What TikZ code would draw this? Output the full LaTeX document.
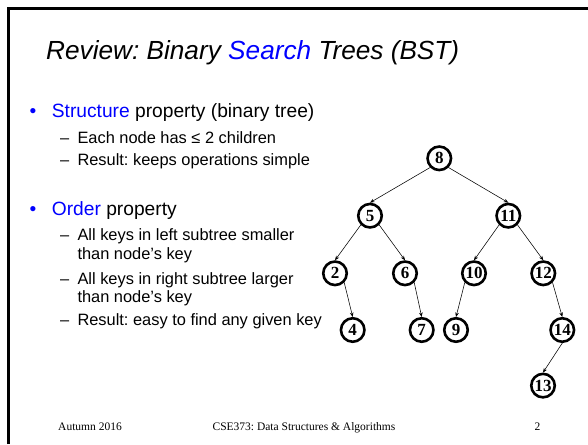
\documentclass[tikz,border=0pt]{standalone}
\usepackage{fontspec}
\setmainfont{Liberation Serif}
\newfontfamily\slidefont{Liberation Sans}
\usetikzlibrary{arrows.meta}
\definecolor{keyblue}{RGB}{0,0,255}
\frenchspacing
\tikzset{
    keynode/.style = {
        draw, circle, line width=2.6pt, minimum size=23.5pt, inner sep=0pt,
        font=\fontsize{17}{17}\selectfont\bfseries
    },
    link/.style = {line width=0.55pt, -{Stealth[length=4.5pt, width=3.6pt]}},
    title/.style = {anchor=base west, inner sep=0pt, font=\slidefont\itshape\fontsize{26.2}{30}\selectfont},
    item/.style = {anchor=base west, inner sep=0pt, font=\slidefont\fontsize{19.2}{23}\selectfont},
    subitem/.style = {anchor=base west, inner sep=0pt, font=\slidefont\fontsize{16.4}{18.3}\selectfont},
    footer/.style = {anchor=base, inner sep=0pt, font=\fontsize{11.5}{13}\selectfont}
}

\begin{document}
\begin{tikzpicture}[x=1pt, y=-1pt]
    \useasboundingbox (0,0) rectangle (588,444);
    % slide frame
    \draw[line width=2.7pt] (8.7,444) -- (8.7,8.7) -- (588,8.7);

    % title
    \node[title] (title) at (46,59.3) {Review: Binary \textcolor{keyblue}{Search} Trees (BST)};

    % bullets
    \node[item, keyblue] (dot1) at (29.5,117.3) {•};
    \node[item] (structure) at (51.7,117.3) {\textcolor{keyblue}{Structure} property (binary tree)};
    \node[item, keyblue] (dot2) at (29.5,215.7) {•};
    \node[item] (order) at (51.7,215.7) {\textcolor{keyblue}{Order} property};
    \foreach \y [count=\i] in {143.3, 165.7, 240.7, 284, 325.7}{
        \node[subitem] (dash\i) at (60,\y) {–};
    }
    \node[subitem] (children) at (77.3,143.3) {Each node has ≤ 2 children};
    \node[subitem] (simple) at (77.3,165.7) {Result: keeps operations simple};
    \node[subitem] (leftkeys) at (77.3,240.7) {All keys in left subtree smaller};
    \node[subitem] (leftkeysb) at (77.3,259) {than node’s key};
    \node[subitem] (rightkeys) at (77.3,284) {All keys in right subtree larger};
    \node[subitem] (rightkeysb) at (77.3,302.3) {than node’s key};
    \node[subitem] (easy) at (77.3,325.7) {Result: easy to find any given key};

    % the tree
    \foreach \k/\x/\y in {8/439.3/158.3, 5/370/215.7, 11/508.3/215.7,
        2/335/273.3, 6/405/273.3, 10/474/273.3, 12/543.3/273.3,
        4/352.7/330, 7/421.7/330, 9/456/330, 14/562.3/330, 13/543/385.6}{
        \node[keynode] (n\k) at (\x,\y) {\k};
    }
    \foreach \a/\b/\from in {8/5/south west, 8/11/south east, 5/2/south west, 5/6/south east,
        11/10/south west, 11/12/south east, 2/4/south east, 6/7/south east,
        10/9/south west, 12/14/south east, 14/13/south}{
        \draw[link] (n\a.\from) -- (n\b.north);
    }

    % footer
    \node[footer, anchor=base west] (term) at (58,430) {Autumn 2016};
    \node[footer] (course) at (304,430) {CSE373: Data Structures \& Algorithms};
    \node[footer] (page) at (537.5,430) {2};
\end{tikzpicture}
\end{document}
